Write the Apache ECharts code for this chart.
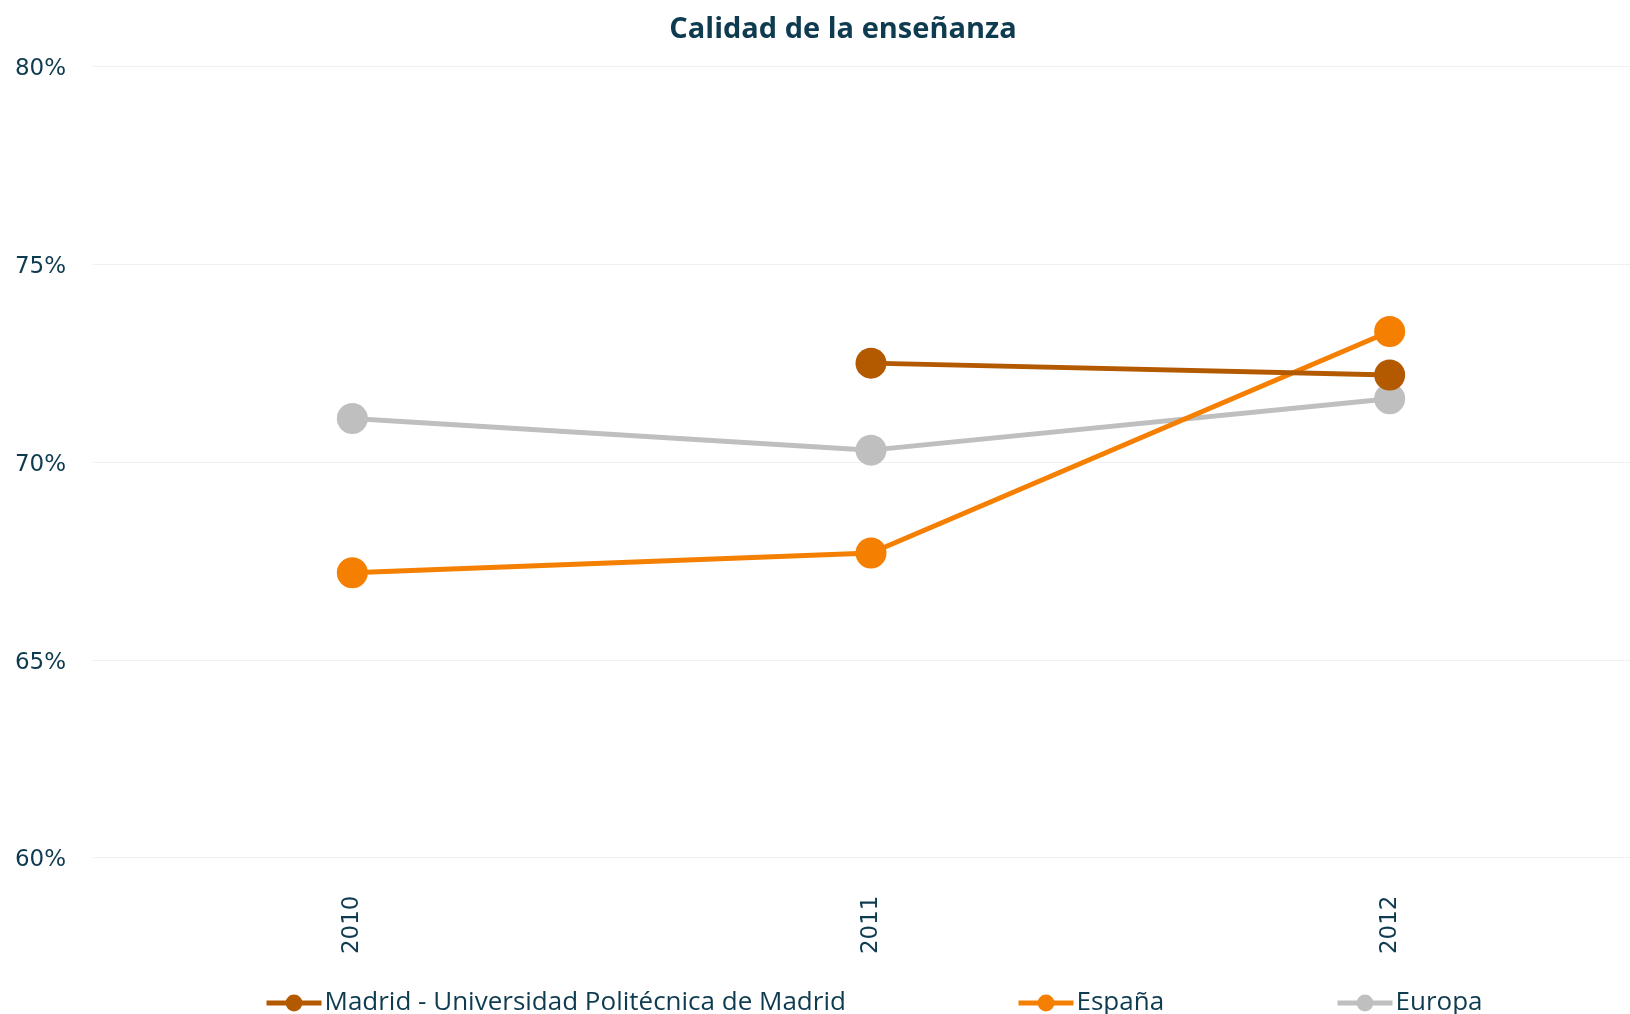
<!DOCTYPE html>
<html>
<head>
<meta charset="utf-8">
<script src="https://cdn.jsdelivr.net/npm/echarts@6/dist/echarts.min.js"></script>
<style>
  html, body { margin: 0; padding: 0; background: #ffffff; width: 1630px; height: 1014px; overflow: hidden; }
  /* canvas runs a little past the right edge so the last category band is cut off */
  #chart { width: 1649px; height: 1014px; }
</style>
</head>
<body>
<div id="chart"></div>
<script>
// Survey results: "Calidad de la enseñanza" (% satisfied)
const years = ['2010', '2011', '2012'];
const madridUPM = [null, 72.5, 72.2];
const espana = [67.2, 67.7, 73.3];
const europa = [71.1, 70.3, 71.6];
const seriesNames = ['Madrid - Universidad Politécnica de Madrid', 'España', 'Europa'];
const yTicks = { min: 60, max: 80, step: 5 };

const textColor = '#0E3B4F';
const colors = {
  madrid: '#B35A00',
  espana: '#F57F00',
  europa: '#BFBFBF'
};

function lineSeries(name, data, color, z) {
  return {
    name: name,
    type: 'line',
    data: data,
    z: z,
    symbol: 'circle',
    symbolSize: 31,
    itemStyle: { color: color },
    lineStyle: { color: color, width: 5 },
    emphasis: { disabled: true }
  };
}

// one legend block per series so each entry sits at its own spot
function legendBlock(name, left) {
  return {
    data: [name],
    left: left,
    top: 985,
    itemWidth: 55,
    itemHeight: 21,
    lineStyle: { width: 5 },
    textStyle: {
      fontFamily: 'Open Sans',
      fontSize: 26,
      color: textColor,
      padding: [0, 0, 0, -2]
    }
  };
}

const chart = echarts.init(document.getElementById('chart'), null, { renderer: 'canvas' });
chart.setOption({
  animation: false,
  backgroundColor: '#ffffff',
  title: {
    text: 'Calidad de la enseñanza',
    left: 838,
    textAlign: 'center',
    top: 10,
    textStyle: {
      fontFamily: 'Open Sans',
      fontWeight: 'bold',
      fontSize: 29,
      color: textColor
    }
  },
  legend: [
    legendBlock(seriesNames[0], 259),
    legendBlock(seriesNames[1], 1011),
    legendBlock(seriesNames[2], 1330)
  ],
  grid: {
    left: 93,
    right: 0,
    top: 66.5,
    bottom: 156.5,
    containLabel: false
  },
  xAxis: {
    type: 'category',
    data: years,
    boundaryGap: true,
    axisLine: { show: false },
    axisTick: { show: false },
    axisLabel: {
      rotate: 90,
      margin: 38,
      fontFamily: 'DejaVu Sans',
      fontSize: 23,
      color: textColor
    }
  },
  yAxis: {
    type: 'value',
    min: yTicks.min,
    max: yTicks.max,
    interval: yTicks.step,
    axisLine: { show: false },
    axisTick: { show: false },
    splitLine: { lineStyle: { color: '#F0F0F0', width: 1 } },
    axisLabel: {
      formatter: '{value}%',
      margin: 27,
      verticalAlign: 'top',
      lineHeight: 6,
      fontFamily: 'DejaVu Sans',
      fontSize: 23,
      color: textColor
    }
  },
  series: [
    lineSeries(seriesNames[2], europa, colors.europa, 2),
    lineSeries(seriesNames[1], espana, colors.espana, 3),
    lineSeries(seriesNames[0], madridUPM, colors.madrid, 4)
  ]
});
</script>
</body>
</html>
